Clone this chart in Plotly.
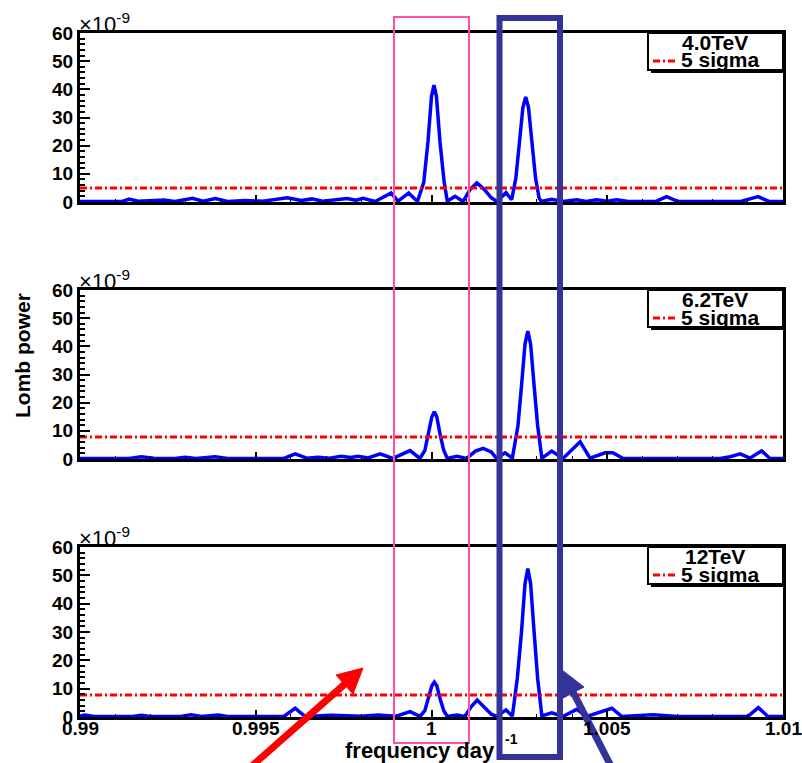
import plotly.graph_objects as go

# ---------------- data (Lomb power in units of 1e-9) ----------------
labels = ["4.0TeV", "6.2TeV", "12TeV"]
sigma5 = [5.0, 7.8, 7.8]

freq_40 = [0.99000, 0.99120, 0.99140, 0.99165, 0.99240, 0.99270, 0.99320, 0.99350, 0.99385, 0.99420,
           0.99470, 0.99520, 0.99590, 0.99630, 0.99660, 0.99690, 0.99760, 0.99785, 0.99805, 0.99840,
           0.99885, 0.99905, 0.99935, 0.99960, 0.99978, 0.99990, 1.00000, 1.00007, 1.00014, 1.00024,
           1.00036, 1.00045, 1.00067, 1.00090, 1.00110, 1.00129, 1.00150, 1.00170, 1.00186, 1.00200,
           1.00212, 1.00228, 1.00240, 1.00250, 1.00260, 1.00268, 1.00276, 1.00286, 1.00296, 1.00306,
           1.00312, 1.00342, 1.00374, 1.00413, 1.00440, 1.00470, 1.00500, 1.00527, 1.00560, 1.00640,
           1.00669, 1.00700, 1.00800, 1.00821, 1.00880, 1.00929, 1.00960, 1.01000]
power_40 = [0.2, 0.2, 1.0, 0.3, 0.7, 0.2, 1.3, 0.3, 1.2, 0.2,
            0.5, 0.3, 1.5, 0.5, 1.1, 0.3, 1.2, 0.6, 1.3, 0.2,
            3.2, 0.3, 3.2, 0.2, 7.0, 21.5, 37.5, 41.5, 37.5, 21.5,
            7.0, 0.3, 2.0, 0.2, 4.5, 6.8, 4.5, 1.5, 0.2, 2.0,
            3.3, 0.8, 8.5, 21.0, 33.5, 37.3, 33.5, 21.0, 8.5, 1.5,
            0.2, 1.0, 0.2, 0.8, 0.2, 0.8, 0.3, 0.8, 0.2, 0.3,
            1.9, 0.2, 0.2, 0.4, 0.2, 1.9, 0.2, 0.2]

freq_62 = [0.99000, 0.99140, 0.99174, 0.99210, 0.99270, 0.99299, 0.99330, 0.99384, 0.99420, 0.99580,
           0.99612, 0.99645, 0.99677, 0.99710, 0.99743, 0.99770, 0.99791, 0.99820, 0.99854, 0.99890,
           0.99939, 0.99967, 0.99981, 0.99991, 1.00001, 1.00008, 1.00015, 1.00025, 1.00035, 1.00045,
           1.00072, 1.00100, 1.00125, 1.00147, 1.00170, 1.00185, 1.00209, 1.00230, 1.00246, 1.00256,
           1.00266, 1.00274, 1.00282, 1.00292, 1.00302, 1.00314, 1.00342, 1.00374, 1.00400, 1.00423,
           1.00451, 1.00494, 1.00516, 1.00545, 1.00821, 1.00850, 1.00878, 1.00906, 1.00939, 1.00963,
           1.01000]
power_62 = [0.2, 0.2, 0.8, 0.3, 0.2, 0.6, 0.2, 0.8, 0.2, 0.2,
            1.8, 0.3, 0.6, 0.3, 1.0, 0.5, 1.0, 0.4, 1.8, 0.2,
            3.0, 0.2, 3.0, 8.4, 15.0, 16.8, 15.0, 8.4, 3.0, 0.2,
            1.0, 0.2, 2.8, 3.8, 2.5, 0.2, 2.2, 0.3, 11.8, 25.9,
            40.8, 45.4, 40.8, 25.9, 11.8, 0.3, 2.8, 0.2, 3.5, 6.1,
            0.3, 2.2, 2.2, 0.2, 0.2, 0.8, 1.8, 0.3, 2.9, 0.2,
            0.2]

freq_12 = [0.99000, 0.99014, 0.99040, 0.99150, 0.99174, 0.99200, 0.99290, 0.99316, 0.99345, 0.99393,
           0.99420, 0.99580, 0.99612, 0.99640, 0.99714, 0.99754, 0.99800, 0.99848, 0.99900, 0.99939,
           0.99967, 0.99981, 0.99991, 1.00001, 1.00008, 1.00015, 1.00025, 1.00035, 1.00045, 1.00072,
           1.00095, 1.00112, 1.00130, 1.00150, 1.00170, 1.00185, 1.00212, 1.00230, 1.00244, 1.00256,
           1.00266, 1.00274, 1.00282, 1.00292, 1.00302, 1.00314, 1.00342, 1.00374, 1.00413, 1.00442,
           1.00513, 1.00541, 1.00630, 1.00700, 1.00900, 1.00930, 1.00957, 1.01000]
power_12 = [0.3, 0.7, 0.2, 0.2, 0.6, 0.2, 0.3, 0.8, 0.2, 0.7,
            0.2, 0.2, 3.1, 0.2, 0.6, 0.6, 0.3, 0.7, 0.3, 1.9,
            0.2, 2.2, 6.2, 11.0, 12.3, 11.0, 6.2, 2.2, 0.2, 0.7,
            0.2, 3.5, 6.0, 3.5, 1.0, 0.2, 2.5, 0.3, 13.6, 29.9,
            47.0, 52.4, 47.0, 29.9, 13.6, 0.4, 1.5, 0.2, 2.7, 0.2,
            3.1, 0.2, 0.8, 0.2, 0.2, 3.3, 0.2, 0.2]

series = [(freq_40, power_40), (freq_62, power_62), (freq_12, power_12)]
for f, p in series:
    assert len(f) == len(p), (len(f), len(p))

x_ticks = [0.99, 0.995, 1.0, 1.005, 1.01]
x_ticktext = ["0.99", "0.995", "1", "1.005", "1.01"]
y_ticks = [0, 10, 20, 30, 40, 50, 60]

# ---------------- layout helpers ----------------
W, H = 802, 763
def px(x):
    return x / W
def py(y):
    return 1 - y / H

FONT = "Liberation Sans"
panels = [(33, 202), (290, 459), (547, 717)]   # pixel top/bottom of each plot frame
X0, X1 = 80, 783
DASH = "7px,3px,2px,3px"

fig = go.Figure()
shapes = []
annotations = []

for i, ((f, p), (top, bot)) in enumerate(zip(series, panels)):
    n = "" if i == 0 else str(i + 1)
    xa, ya = "x" + n, "y" + n
    fig.add_trace(go.Scatter(x=f, y=p, mode="lines", xaxis=xa, yaxis=ya,
                             line=dict(color="#0000FF", width=3.5), showlegend=False,
                             hoverinfo="skip"))
    fig.add_trace(go.Scatter(x=[0.99, 1.01], y=[sigma5[i], sigma5[i]], mode="lines",
                             xaxis=xa, yaxis=ya, showlegend=False, hoverinfo="skip",
                             line=dict(color="#FF0000", width=3, dash=DASH)))
    fig.layout["xaxis" + n] = dict(
        domain=[px(X0), px(X1)], anchor=ya, range=[0.99, 1.01],
        tickmode="array", tickvals=x_ticks, showticklabels=False,
        ticks="inside", ticklen=7, tickwidth=1.5, tickcolor="black",
        minor=dict(ticks="inside", ticklen=3, tickwidth=1, tickcolor="black", dtick=0.001, tick0=0.99),
        showline=True, linewidth=3, linecolor="black", mirror=True,
        showgrid=False, zeroline=False, automargin=False)
    fig.layout["yaxis" + n] = dict(
        domain=[py(bot), py(top)], anchor=xa, range=[0, 60],
        tickmode="array", tickvals=y_ticks,
        ticks="inside", ticklen=10, tickwidth=1.5, tickcolor="black",
        minor=dict(ticks="inside", ticklen=5, tickwidth=1.5, tickcolor="black", dtick=2, tick0=0),
        showline=True, linewidth=3, linecolor="black", mirror=True,
        showgrid=False, zeroline=False, automargin=False,
        tickfont=dict(family=FONT, size=19, color="black", weight="bold"))

    # exponent label
    annotations.append(dict(xref="paper", yref="paper", x=px(77), y=py(top - 10),
                            xanchor="left", yanchor="middle", showarrow=False,
                            text="×10<sup>-9</sup>",
                            font=dict(family=FONT, size=22, color="black")))
    # legend box with shadow
    lx0, lx1, ly0, ly1 = 648, 783, top, top + 37
    shapes.append(dict(type="rect", xref="paper", yref="paper", layer="above",
                       x0=px(lx0 + 3), x1=px(lx1 + 3), y0=py(ly1 + 3), y1=py(ly0 + 3),
                       fillcolor="black", line=dict(width=0)))
    shapes.append(dict(type="rect", xref="paper", yref="paper", layer="above",
                       x0=px(lx0), x1=px(lx1), y0=py(ly1), y1=py(ly0),
                       fillcolor="white", line=dict(color="black", width=2)))
    shapes.append(dict(type="line", xref="paper", yref="paper", layer="above",
                       x0=px(653), x1=px(678), y0=py(top + 28), y1=py(top + 28),
                       line=dict(color="#FF0000", width=3, dash=DASH)))
    annotations.append(dict(xref="paper", yref="paper", x=px(715), y=py(top + 9),
                            xanchor="center", yanchor="middle", showarrow=False,
                            text="<b>" + labels[i] + "</b>",
                            font=dict(family=FONT, size=21, color="black")))
    annotations.append(dict(xref="paper", yref="paper", x=px(679), y=py(top + 27),
                            xanchor="left", yanchor="middle", showarrow=False,
                            text="<b>5 sigma</b>",
                            font=dict(family=FONT, size=21, color="black")))

# x tick labels of the bottom panel
for v, t in zip(x_ticks, x_ticktext):
    annotations.append(dict(xref="x3", yref="paper", x=v, y=py(728),
                            xanchor="center", yanchor="middle", showarrow=False,
                            text="<b>" + t + "</b>",
                            font=dict(family=FONT, size=19, color="black")))

# axis titles
annotations.append(dict(xref="paper", yref="paper", x=px(22), y=py(356),
                        xanchor="center", yanchor="middle", showarrow=False, textangle=-90,
                        text="<b>Lomb power</b>", font=dict(family=FONT, size=21, color="black")))
annotations.append(dict(xref="paper", yref="paper", x=px(343), y=py(750),
                        xanchor="left", yanchor="middle", showarrow=False,
                        text="<b>frequency day</b>",
                        font=dict(family=FONT, size=22, color="black")))
annotations.append(dict(xref="paper", yref="paper", x=px(503), y=py(739),
                        xanchor="left", yanchor="middle", showarrow=False,
                        text="<b>-1</b>",
                        font=dict(family=FONT, size=14, color="black")))

# highlight boxes
shapes.append(dict(type="rect", xref="paper", yref="paper", layer="above",
                   x0=px(394), x1=px(469), y0=py(743), y1=py(17),
                   line=dict(color="#FF4FA3", width=2), fillcolor="rgba(0,0,0,0)"))
shapes.append(dict(type="rect", xref="paper", yref="paper", layer="above",
                   x0=px(499.5), x1=px(560), y0=py(757), y1=py(18),
                   line=dict(color="#333399", width=6), fillcolor="rgba(0,0,0,0)"))

# arrows (shaft + head)
def arrow(tail, base, tip, c1, c2, color):
    shapes.append(dict(type="line", xref="paper", yref="paper", layer="above",
                       x0=px(tail[0]), y0=py(tail[1]), x1=px(base[0]), y1=py(base[1]),
                       line=dict(color=color, width=7)))
    path = "M {} {} L {} {} L {} {} Z".format(px(tip[0]), py(tip[1]), px(c1[0]), py(c1[1]),
                                              px(c2[0]), py(c2[1]))
    shapes.append(dict(type="path", xref="paper", yref="paper", layer="above", path=path,
                       fillcolor=color, line=dict(color=color, width=1)))

arrow((245, 772), (346, 683), (363, 668), (353, 694), (336, 675), "#FF0000")
arrow((614, 772), (572, 690), (562, 670), (584, 687), (563, 698), "#333399")

fig.update_layout(width=W, height=H, margin=dict(l=0, r=0, t=0, b=0),
                  paper_bgcolor="white", plot_bgcolor="white",
                  shapes=shapes, annotations=annotations, showlegend=False)
fig.write_html("out.html")
